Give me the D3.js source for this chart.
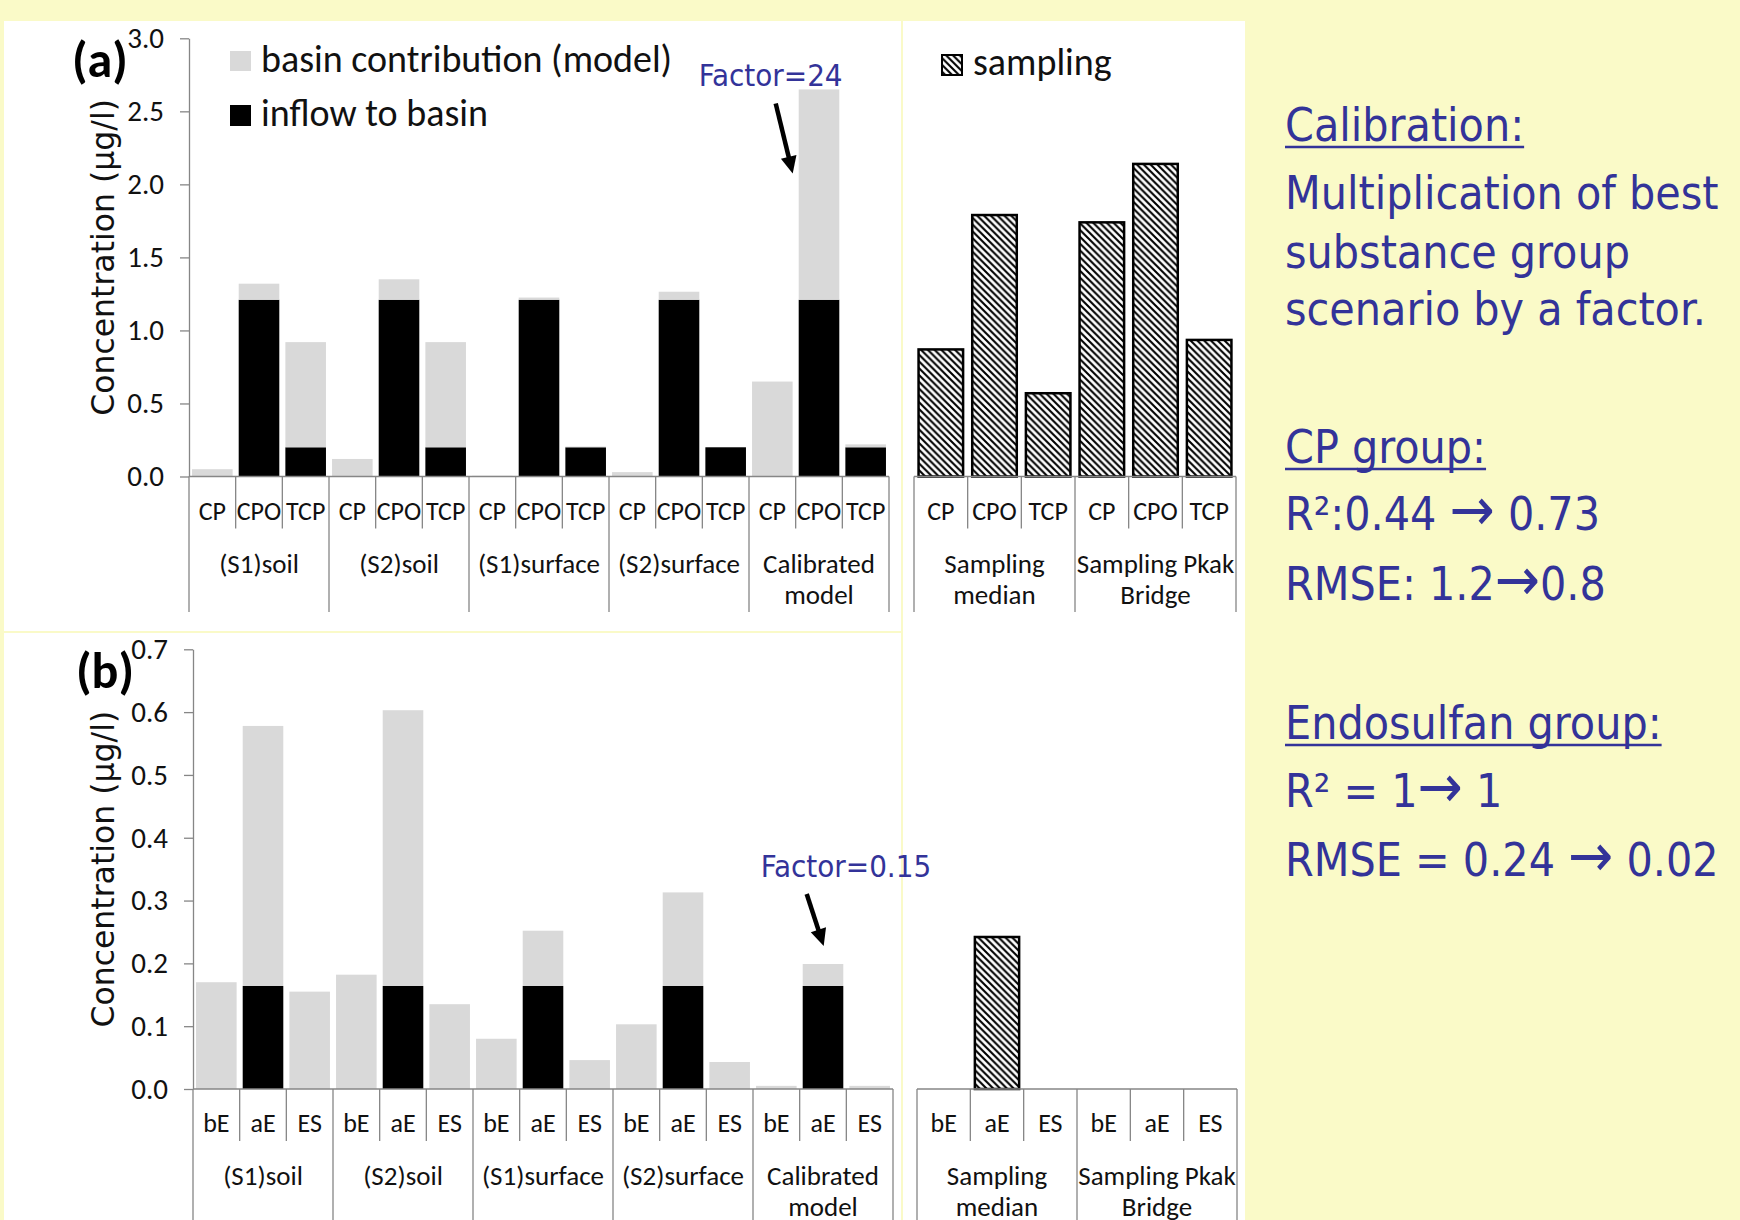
<!DOCTYPE html>
<html>
<head>
<meta charset="utf-8">
<script src="https://cdn.jsdelivr.net/npm/d3@7"></script>
<style>
  body { margin: 0; background: #fafac8; }
  svg { display: block; }
</style>
</head>
<body>
<svg id="chart" width="1740" height="1220"></svg>
<script>
// ---------- data ----------
var scenarios = ["(S1)soil", "(S2)soil", "(S1)surface", "(S2)surface", "Calibrated model"];
var samplings = ["Sampling median", "Sampling Pkak Bridge"];
var cpSubs = ["CP", "CPO", "TCP"];
var esSubs = ["bE", "aE", "ES"];

// (a) CP group, µg/l
var cpInflow = [0, 1.21, 0.2,  0, 1.21, 0.2,  0, 1.21, 0.2,  0, 1.21, 0.2,  0, 1.21, 0.2];
var cpBasin  = [0.05, 0.11, 0.72,  0.12, 0.14, 0.72,  0.005, 0.015, 0.005,  0.03, 0.055, 0,  0.65, 1.44, 0.02];
var cpSampling = [0.87, 1.79, 0.57,  1.74, 2.14, 0.935];
var cpTicks = [0, 0.5, 1, 1.5, 2, 2.5, 3];

// (b) Endosulfan group, µg/l
var esInflow = [0, 0.164, 0,  0, 0.164, 0,  0, 0.164, 0,  0, 0.164, 0,  0, 0.164, 0];
var esBasin  = [0.17, 0.414, 0.155,  0.182, 0.439, 0.135,  0.08, 0.088, 0.046,  0.103, 0.149, 0.043,  0.005, 0.035, 0.005];
var esSampling = [0, 0.242, 0,  0, 0, 0];
var esTicks = [0, 0.1, 0.2, 0.3, 0.4, 0.5, 0.6, 0.7];

var legendLabels = ["basin contribution (model)", "inflow to basin", "sampling"];
var yTitle = "Concentration (µg/l)";

var notes = [
  "Calibration:", "Multiplication of best", "substance group", "scenario by a factor.",
  "CP group:", "R²:0.44 → 0.73", "RMSE: 1.2→0.8",
  "Endosulfan group:", "R² = 1→ 1", "RMSE = 0.24 → 0.02"
];
var noteHeads = ["Calibration:", "CP group:", "Endosulfan group:"];

// ---------- styles / layout ----------
var calib = "Carlito, Lato, sans-serif";
var tahoma = "'DejaVu Sans Condensed', 'Liberation Sans', sans-serif";
var verdana = "'DejaVu Sans', Verdana, sans-serif";
var axisGrey = "#868686";
var noteBlue = "#333399";
var noteY = [141, 209, 268, 325, 463, 530, 600, 739, 807, 876];

var svg = d3.select("#chart");
var defs = svg.append("defs");

var hp = 6.8;
var hatch = defs.append("pattern")
    .attr("id", "hatch")
    .attr("patternUnits", "userSpaceOnUse")
    .attr("width", hp).attr("height", hp);
hatch.append("rect").attr("width", hp).attr("height", hp).attr("fill", "#fff");
hatch.append("path")
    .attr("d", "M-1,-1L" + (hp + 1) + "," + (hp + 1) + "M-2," + (hp - 2) + "L2," + (hp + 2) +
               "M" + (hp - 2) + ",-2L" + (hp + 2) + ",2")
    .attr("stroke", "#000").attr("stroke-width", 2.1);

// white panels
var panels = [[4, 21, 897, 610], [4, 633, 897, 587], [903, 21, 342, 1199]];
svg.selectAll("rect.panel").data(panels).enter().append("rect")
    .attr("class", "panel")
    .attr("x", function(d) { return d[0]; })
    .attr("y", function(d) { return d[1]; })
    .attr("width", function(d) { return d[2]; })
    .attr("height", function(d) { return d[3]; })
    .attr("fill", "#fff");

function wrapLines(label, maxW, size) {
  var words = label.split(" "), lines = [], cur = "";
  var t = svg.append("text").attr("font-family", calib).attr("font-size", size);
  words.forEach(function(w) {
    var test = cur ? cur + " " + w : w;
    t.text(test);
    if (cur && t.node().getComputedTextLength() > maxW) { lines.push(cur); cur = w; }
    else cur = test;
  });
  lines.push(cur);
  t.remove();
  return lines;
}

function arrow(g, x1, y1, x2, y2) {
  var dx = x2 - x1, dy = y2 - y1, len = Math.sqrt(dx * dx + dy * dy);
  var ux = dx / len, uy = dy / len, hl = 17, hw = 8;
  var bx = x2 - ux * hl, by = y2 - uy * hl;
  g.append("line").attr("x1", x1).attr("y1", y1).attr("x2", bx + ux * 2).attr("y2", by + uy * 2)
      .attr("stroke", "#000").attr("stroke-width", 4.5);
  g.append("path")
      .attr("d", "M" + x2 + "," + y2 + "L" + (bx - uy * hw) + "," + (by + ux * hw) +
                 "L" + (bx + uy * hw) + "," + (by - ux * hw) + "Z")
      .attr("fill", "#000");
}

function drawPanel(o) {
  var g = svg.append("g");
  var y = d3.scaleLinear().domain([0, o.max]).range([o.base, o.top]);

  var cats = [];
  scenarios.forEach(function(s) { o.subs.forEach(function(c) { cats.push(s + "|" + c); }); });
  var scats = [];
  samplings.forEach(function(s) { o.subs.forEach(function(c) { scats.push(s + "|" + c); }); });

  var x = d3.scaleBand().domain(cats).range([o.left, o.right]).paddingInner(0.13).paddingOuter(0.065);
  var xs = d3.scaleBand().domain(scats).range([o.sLeft, o.sRight]).paddingInner(0.17).paddingOuter(0.085);

  // stacked model bars
  var rows = cats.map(function(k, i) { return {key: k, inflow: o.inflow[i], basin: o.basin[i]}; });
  var layers = d3.stack().keys(["inflow", "basin"])(rows);
  var fills = {inflow: "#000", basin: "#d9d9d9"};
  g.selectAll("g.layer").data(layers).enter().append("g")
      .attr("fill", function(d) { return fills[d.key]; })
    .selectAll("rect").data(function(d) { return d; }).enter().append("rect")
      .attr("x", function(d) { return x(d.data.key); })
      .attr("width", x.bandwidth())
      .attr("y", function(d) { return y(d[1]); })
      .attr("height", function(d) { return y(d[0]) - y(d[1]); });

  // sampling bars
  var srows = scats.map(function(k, i) { return {key: k, v: o.sampling[i]}; })
      .filter(function(d) { return d.v > 0; });
  g.selectAll("rect.samp").data(srows).enter().append("rect")
      .attr("class", "samp")
      .attr("x", function(d) { return xs(d.key); })
      .attr("width", xs.bandwidth())
      .attr("y", function(d) { return y(d.v); })
      .attr("height", function(d) { return y(0) - y(d.v); })
      .attr("fill", "url(#hatch)")
      .attr("stroke", "#000").attr("stroke-width", 2.5);

  // y axis
  var ax = g.append("g")
      .attr("transform", "translate(" + o.left + ",0)")
      .call(d3.axisLeft(y).tickValues(o.ticks).tickFormat(d3.format(".1f"))
            .tickSize(9).tickSizeOuter(0).tickPadding(16));
  ax.select(".domain").attr("stroke", axisGrey).attr("stroke-width", 1.3);
  ax.selectAll(".tick line").attr("stroke", axisGrey).attr("stroke-width", 1.3);
  ax.selectAll(".tick text").attr("font-family", calib).attr("font-size", 29).attr("fill", "#111");

  // baselines
  [[o.left, o.right], [o.sLeft, o.sRight]].forEach(function(r) {
    g.append("line").attr("x1", r[0]).attr("x2", r[1]).attr("y1", y(0)).attr("y2", y(0))
        .attr("stroke", axisGrey).attr("stroke-width", 1.3);
  });

  // category dividers and labels
  [[x, cats, scenarios], [xs, scats, samplings]].forEach(function(set) {
    var sc = set[0], keys = set[1], groups = set[2];
    var step = sc.step(), x0 = sc.range()[0];
    g.selectAll(null).data(d3.range(keys.length + 1)).enter().append("line")
        .attr("x1", function(i) { return x0 + i * step; })
        .attr("x2", function(i) { return x0 + i * step; })
        .attr("y1", y(0))
        .attr("y2", function(i) { return i % 3 === 0 ? o.bottom : y(0) + 52; })
        .attr("stroke", axisGrey).attr("stroke-width", 1.3);
    g.selectAll(null).data(keys).enter().append("text")
        .attr("x", function(k) { return sc(k) + sc.bandwidth() / 2; })
        .attr("y", y(0) + 43)
        .attr("text-anchor", "middle")
        .attr("font-family", calib).attr("font-size", 26).attr("fill", "#111")
        .text(function(k) { return k.split("|")[1]; });
    groups.forEach(function(name, gi) {
      var lines = wrapLines(name, step * 3 * 1.05, 27);
      var t = g.append("text")
          .attr("x", x0 + step * (gi * 3 + 1.5))
          .attr("y", y(0) + 96)
          .attr("text-anchor", "middle")
          .attr("font-family", calib).attr("font-size", 27).attr("fill", "#111");
      lines.forEach(function(l, li) {
        t.append("tspan").attr("x", x0 + step * (gi * 3 + 1.5)).attr("dy", li ? 31 : 0).text(l);
      });
    });
  });

  // y title and panel tag
  g.append("text")
      .attr("transform", "translate(114," + (o.top + o.base) / 2 + ")rotate(-90)")
      .attr("text-anchor", "middle")
      .attr("font-family", verdana).attr("font-size", 31.5).attr("fill", "#111")
      .text(yTitle);
  g.append("text")
      .attr("x", o.left - 117).attr("y", o.top + 39)
      .attr("font-family", calib).attr("font-size", 50).attr("font-weight", "bold")
      .text(o.tag);

  // factor annotation on the calibrated bar
  var key = "Calibrated model|" + o.subs[1];
  var bi = cats.indexOf(key);
  var bx = x(key), by = y(o.inflow[bi] + o.basin[bi]);
  g.append("text")
      .attr("x", bx + o.note.tx).attr("y", by + o.note.ty)
      .attr("font-family", tahoma).attr("font-size", 31).attr("fill", noteBlue)
      .text(o.note.text);
  arrow(g, bx + o.note.a[0], by + o.note.a[1], bx + o.note.a[2], by + o.note.a[3]);
}

drawPanel({
  tag: "(a)", max: 3, ticks: cpTicks, top: 38.3, base: 476.5,
  left: 189, right: 889, sLeft: 914, sRight: 1236, bottom: 612,
  subs: cpSubs, inflow: cpInflow, basin: cpBasin, sampling: cpSampling,
  note: {text: "Factor=24", tx: -100, ty: -3, a: [-23, 14, -6, 84]}
});
drawPanel({
  tag: "(b)", max: 0.7, ticks: esTicks, top: 649.3, base: 1089,
  left: 193, right: 893, sLeft: 917, sRight: 1237, bottom: 1230,
  subs: esSubs, inflow: esInflow, basin: esBasin, sampling: esSampling,
  note: {text: "Factor=0.15", tx: -42, ty: -87, a: [4, -70, 21, -18]}
});

// legends
var leg = svg.append("g").attr("font-family", calib).attr("font-size", 38).attr("fill", "#111");
leg.append("rect").attr("x", 230).attr("y", 51).attr("width", 21).attr("height", 20).attr("fill", "#d9d9d9");
leg.append("text").attr("x", 261).attr("y", 72).text(legendLabels[0]);
leg.append("rect").attr("x", 230).attr("y", 105).attr("width", 21).attr("height", 21).attr("fill", "#000");
leg.append("text").attr("x", 261).attr("y", 126).text(legendLabels[1]);
leg.append("rect").attr("x", 942).attr("y", 55).attr("width", 20).attr("height", 20)
    .attr("fill", "url(#hatch)").attr("stroke", "#000").attr("stroke-width", 2);
leg.append("text").attr("x", 973).attr("y", 75).text(legendLabels[2]);

// notes on the right (arrows drawn a bit larger, as in the slide's symbol font)
var ng = svg.append("g").attr("font-family", tahoma).attr("font-size", 46).attr("fill", noteBlue);
notes.forEach(function(s, i) {
  var t = ng.append("text").attr("x", 1285).attr("y", noteY[i]);
  s.split("→").forEach(function(part, pi) {
    if (pi > 0) t.append("tspan").attr("font-size", 60).text("→");
    t.append("tspan").text(part);
  });
  if (noteHeads.indexOf(s) >= 0) {
    var w = t.node().getComputedTextLength();
    ng.append("line").attr("x1", 1285).attr("x2", 1285 + w)
        .attr("y1", noteY[i] + 6).attr("y2", noteY[i] + 6)
        .attr("stroke", noteBlue).attr("stroke-width", 2.5);
  }
});
</script>
</body>
</html>
